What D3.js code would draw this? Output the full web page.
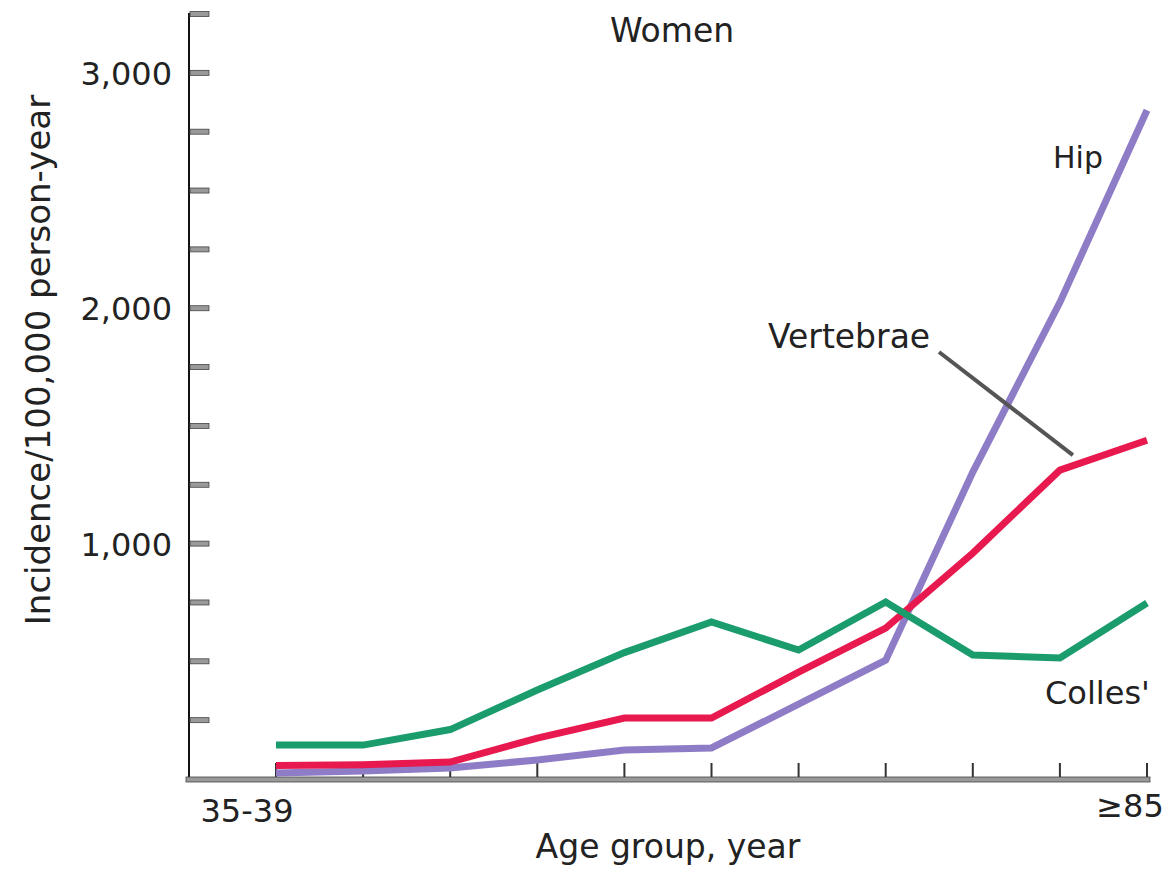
<!DOCTYPE html>
<html>
<head>
<meta charset="utf-8">
<script src="https://cdn.jsdelivr.net/npm/d3@7"></script>
<style>
  html, body { margin: 0; padding: 0; background: #fff; }
  svg { display: block; }
  text { font-family: "DejaVu Sans", sans-serif; fill: #222; }
</style>
</head>
<body>
<svg id="chart" width="1171" height="869"></svg>
<script>
// Age groups (years)
const ageGroups = ["35-39", "40-44", "45-49", "50-54", "55-59", "60-64",
                   "65-69", "70-74", "75-79", "80-84", "≥85"];

// Incidence per 100,000 person-years, women
const hip       = [25, 34, 47, 81, 123, 132, 318, 505, 1304, 2025, 2841];
const vertebrae = [57, 61, 72, 174, 259, 259, 454, 641, 960, 1312, 1439];
const colles    = [144, 144, 210, 378, 537, 667, 548, 752, 527, 514, 748];

const yMajorTicks = [1000, 2000, 3000];
const yMinorStep = 250;
const yMax = 3250;

const svg = d3.select("#chart");

const x = d3.scalePoint().domain(ageGroups).range([276, 1147]);
const y = d3.scaleLinear().domain([0, yMax]).range([779, 14]);

const axisX = 189;

// ---- Y axis: spine, short tick bars every 250, labels every 1,000
const yTicks = d3.range(yMinorStep, yMax + 1, yMinorStep);
const yAxis = svg.append("g").attr("transform", `translate(${axisX},0)`);
yAxis.append("line")
  .attr("x1", 0).attr("x2", 0)
  .attr("y1", y(yMax) - 1).attr("y2", y(0) + 2)
  .attr("stroke", "#111").attr("stroke-width", 2);
yAxis.selectAll("rect.ytick")
  .data(yTicks)
  .join("rect")
  .attr("class", "ytick")
  .attr("x", 1).attr("width", 19)
  .attr("y", d => y(d) - 2.5).attr("height", 5)
  .attr("fill", "#9a9a9a").attr("stroke", "#444").attr("stroke-width", 0.8);
yAxis.selectAll("text.ylab")
  .data(yMajorTicks)
  .join("text")
  .attr("class", "ylab")
  .attr("x", -17)
  .attr("y", d => y(d) + 12)
  .attr("text-anchor", "end")
  .attr("font-size", 32)
  .text(d => d3.format(",")(d));

// ---- X axis: thick grey baseline with upward ticks at each age group
const xAxisG = svg.append("g");
xAxisG.append("rect")
  .attr("x", 186).attr("width", x(ageGroups[ageGroups.length - 1]) + 3 - 186)
  .attr("y", y(0) - 2).attr("height", 5)
  .attr("fill", "#9a9a9a").attr("stroke", "#444").attr("stroke-width", 0.8);
xAxisG.selectAll("line.xtick")
  .data(ageGroups)
  .join("line")
  .attr("class", "xtick")
  .attr("x1", d => x(d)).attr("x2", d => x(d))
  .attr("y1", y(0) - 2).attr("y2", y(0) - 16)
  .attr("stroke", "#333").attr("stroke-width", 2);

const firstLabel = ageGroups[0];
const lastLabel = ageGroups[ageGroups.length - 1];
xAxisG.append("text")
  .attr("x", x(firstLabel) - 29).attr("y", 822)
  .attr("text-anchor", "middle").attr("font-size", 32)
  .text(firstLabel);
xAxisG.append("text")
  .attr("x", x(lastLabel) - 17).attr("y", 817)
  .attr("text-anchor", "middle").attr("font-size", 32)
  .text(lastLabel);

// ---- Axis titles and panel title
svg.append("text")
  .attr("x", 668).attr("y", 858)
  .attr("text-anchor", "middle").attr("font-size", 33)
  .text("Age group, year");

svg.append("text")
  .attr("transform", "translate(50,360) rotate(-90)")
  .attr("text-anchor", "middle").attr("font-size", 34)
  .text("Incidence/100,000 person-year");

svg.append("text")
  .attr("x", 672).attr("y", 42)
  .attr("text-anchor", "middle").attr("font-size", 33)
  .text("Women");

// ---- Series lines
const line = d3.line()
  .x((d, i) => x(ageGroups[i]))
  .y(d => y(d));

const series = [
  { name: "Hip", values: hip, color: "#8f7cc6" },
  { name: "Vertebrae", values: vertebrae, color: "#e8194f" },
  { name: "Colles'", values: colles, color: "#1b9c6d" }
];

svg.append("g").selectAll("path.series")
  .data(series)
  .join("path")
  .attr("class", "series")
  .attr("d", d => line(d.values))
  .attr("fill", "none")
  .attr("stroke", d => d.color)
  .attr("stroke-width", 7)
  .attr("stroke-linejoin", "miter")
  .attr("stroke-linecap", "butt");

// ---- Direct labels
svg.append("text")
  .attr("x", 1053).attr("y", 168)
  .attr("font-size", 30)
  .text("Hip");

svg.append("text")
  .attr("x", 768).attr("y", 348)
  .attr("font-size", 33)
  .text("Vertebrae");

svg.append("text")
  .attr("x", 1045).attr("y", 704)
  .attr("font-size", 32)
  .text("Colles'");

// Leader from the Vertebrae label down to its line
const leaderEnd = [x(ageGroups[9]) + 13, y(vertebrae[9]) - 15];
svg.append("line")
  .attr("x1", 939).attr("y1", 352)
  .attr("x2", leaderEnd[0]).attr("y2", leaderEnd[1])
  .attr("stroke", "#555").attr("stroke-width", 4);
</script>
</body>
</html>
